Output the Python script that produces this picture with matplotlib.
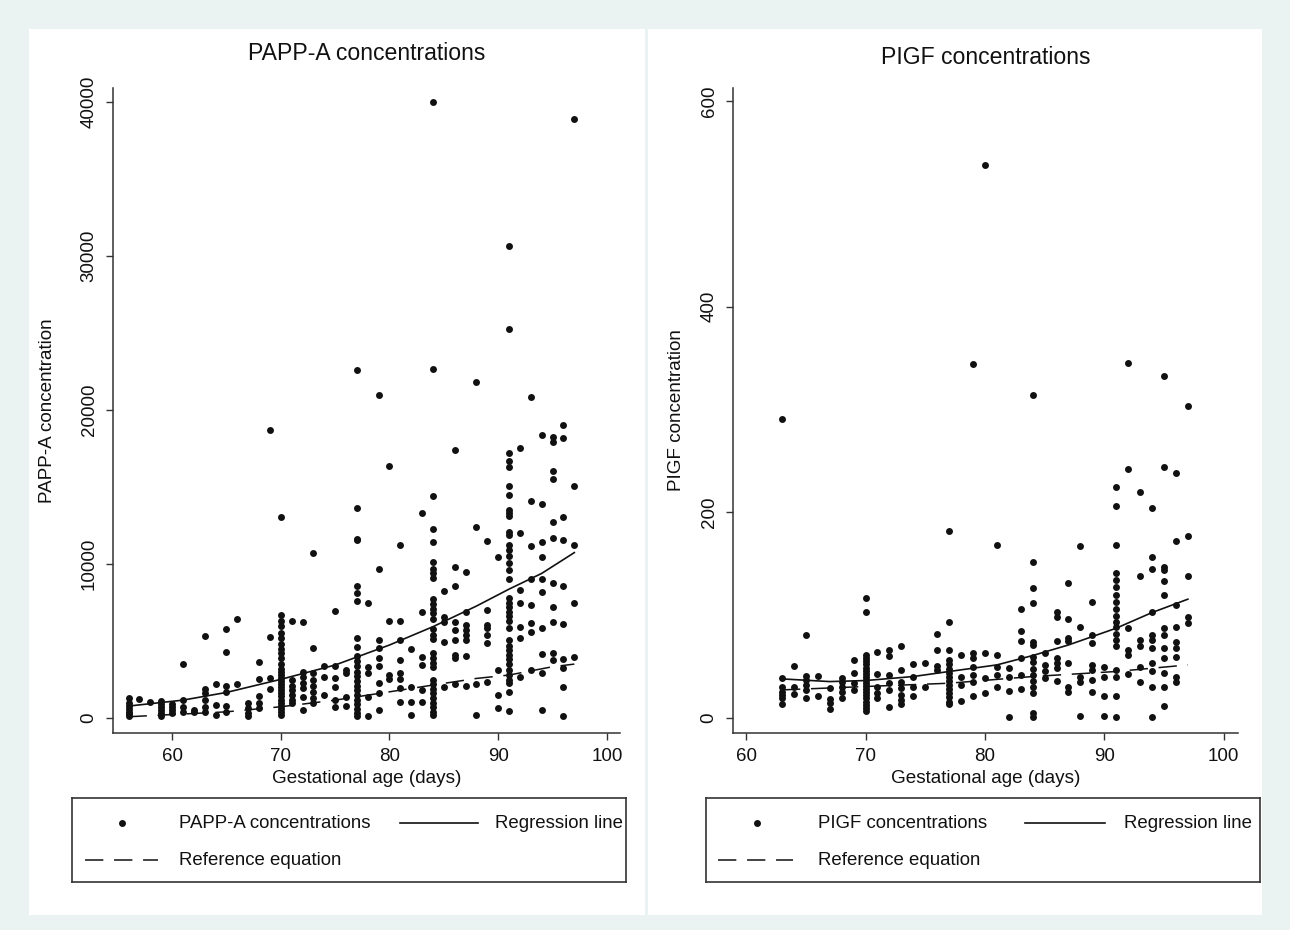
import matplotlib
matplotlib.use("Agg")
import matplotlib.pyplot as plt
from matplotlib.patches import Rectangle

plt.rcParams['font.family'] = ['Liberation Sans', 'DejaVu Sans']

# ---- PAPP-A scatter: gestational day -> concentrations
papp_days = [56, 57, 58, 59, 60, 61, 62, 63, 64, 65, 66, 67, 68, 69, 70, 71, 72, 73, 74, 75, 76,
             77, 78, 79, 80, 81, 82, 83, 84, 85, 86, 87, 88, 89, 90, 91, 92, 93, 94, 95, 96, 97]
papp_vals = [
    [1300, 1000, 800, 600, 400, 250, 150],
    [1250],
    [1060],
    [1100, 900, 700, 500, 300, 100],
    [900, 700, 500, 300],
    [3500, 1150, 700, 400],
    [500, 400],
    [5340, 1860, 1600, 1150, 700, 400],
    [2180, 840, 200],
    [5780, 4260, 2070, 1700, 770, 400],
    [6430, 2180],
    [990, 670, 300, 100],
    [3610, 2530, 1450, 950, 670],
    [18700, 5280, 2620, 1860],
    [13070, 6700, 6300, 6000, 5500, 5200, 4800, 4500, 4200, 3900, 3500, 3200, 3000, 2800,
     2600, 2400, 2200, 2000, 1800, 1600, 1400, 1200, 1000, 800, 600, 400, 200],
    [6270, 2460, 2100, 1800, 1500, 1200, 950],
    [6210, 3000, 2680, 2250, 1930, 1390, 520],
    [10740, 4520, 2900, 2500, 2100, 1700, 1300, 1000],
    [3370, 2680, 1490],
    [6920, 3370, 2570, 2030, 1200, 730],
    [3110, 2900, 1390, 770],
    [22620, 13660, 11620, 11560, 8590, 8100, 7600, 5170, 4590, 4000, 3700, 3400, 3000, 2700,
     2400, 2100, 1800, 1500, 1200, 900, 600, 300, 100],
    [7440, 3330, 2900, 1390, 130],
    [20950, 9650, 5060, 4520, 3870, 3370, 2250, 1600, 520],
    [16380, 6270, 2790, 2510],
    [11230, 6270, 5060, 3760, 2900, 2510, 1930, 1060],
    [4460, 2000, 1060, 200],
    [13310, 6860, 3980, 3440, 1820, 1060],
    [40000, 22680, 14390, 12250, 11400, 10150, 9700, 9400, 9100, 7700, 7400, 7100, 6800, 6400,
     5800, 5400, 5100, 4200, 3900, 3600, 3300, 2500, 2200, 1900, 1600, 1300, 1000, 700, 400, 200],
    [8240, 6580, 6250, 4950, 2030],
    [17380, 9830, 8590, 6250, 5710, 5060, 4090, 3870, 2200],
    [9500, 6900, 6040, 5710, 5390, 5060, 4040, 2070],
    [21800, 12420, 2200, 200],
    [11490, 7010, 6040, 5820, 5390, 4850, 2360],
    [10470, 3110, 1490, 620],
    [30670, 25280, 17190, 16700, 16300, 15070, 14480, 13500, 13300, 13100, 12100, 11900, 11230,
     10900, 10500, 10050, 9600, 9000, 7800, 7500, 7200, 6900, 6600, 6300, 5850, 5060, 4700,
     4400, 4100, 3800, 3500, 3100, 2790, 2500, 2250, 1700, 450],
    [17550, 11990, 8300, 7440, 5930, 5170, 2680],
    [20860, 14090, 11170, 9000, 7330, 6140, 5600, 3110],
    [18400, 13900, 11400, 10470, 9000, 8200, 5820, 4130, 2900, 520],
    [18220, 17900, 16040, 15540, 12730, 11670, 8740, 7230, 6250, 4200, 3760],
    [19050, 18200, 13070, 11560, 8590, 6080, 3830, 3220, 2030, 130],
    [38900, 15060, 11230, 7440, 3940],
]
papp_fit_x = [56, 61, 65, 70, 75, 80, 84, 88, 91, 94, 97]
papp_fit_y = [775, 1160, 1660, 2510, 3440, 4740, 5930, 7270, 8370, 9390, 10740]
papp_ref_x = [56, 65, 70, 75, 80, 84, 88, 91, 95, 97]
papp_ref_y = [82, 400, 730, 1160, 1700, 2140, 2570, 2790, 3330, 3500]

# ---- PlGF scatter
pigf_days = [63, 64, 65, 66, 67, 68, 69, 70, 71, 72, 73, 74, 75, 76, 77, 78, 79, 80,
             81, 82, 83, 84, 85, 86, 87, 88, 89, 90, 91, 92, 93, 94, 95, 96, 97]
pigf_vals = [
    [291, 38.7, 30.6, 25.7, 22.5, 19.2, 13.7],
    [50.7, 30.6, 23.1],
    [80.2, 41.3, 37.1, 32.2, 27.3, 19.2],
    [41.3, 21.8],
    [29, 18.3, 14.4, 8.9],
    [38.7, 34.5, 30.6, 25.7, 19.2],
    [56.5, 43.5, 33.8, 27.3],
    [116.4, 102.8, 61.4, 58, 55, 52, 49, 46, 43, 40, 37, 34, 31, 28, 25, 22, 19, 16, 13, 10, 7],
    [64, 42.6, 30.6, 24.1, 19.2],
    [66.2, 60.4, 41.9, 33.8, 27.3, 11.1],
    [70.4, 46.8, 35.4, 29, 22.5, 17.6, 13.7],
    [52.6, 40.3, 30.6, 21.8],
    [53.9, 30.6],
    [81.5, 66.2, 50.7, 46.8],
    [182.2, 93.8, 66.2, 56.5, 52, 48, 44, 40, 36, 32, 28, 24, 20, 16, 14],
    [61.4, 40.3, 32.2, 16.6],
    [344, 63, 58.1, 50, 41.9, 35.4, 21.8],
    [538, 63.6, 38.7, 24.1],
    [168.3, 61.4, 50, 41.9, 30.6],
    [48.4, 40.3, 26.7, 0.8],
    [106.1, 85, 75.3, 58.1, 41.9, 28.3],
    [314, 152.1, 126.2, 112.2, 74.3, 71.1, 59.7, 54, 48, 42, 36, 30, 24, 4.7, 1.4],
    [63, 51.6, 45.2, 38.7],
    [103.5, 98.6, 75.3, 58.1, 53.3, 48.4, 36.4],
    [131, 96, 77.6, 75.3, 53.9, 30.6, 24.8],
    [167.3, 88.9, 40.3, 35.4, 2.1],
    [112.5, 80.2, 72.7, 51.6, 46.8, 37.1, 25.7],
    [50, 40.3, 21.5, 2.1],
    [224.3, 206.2, 168.3, 141.4, 134, 127, 120, 113, 106, 99.5, 93.8, 88, 82, 76, 70,
     46.8, 40.3, 21.5, 0.8],
    [345, 241.8, 87.3, 66.2, 61.4, 42.9],
    [219.5, 138.5, 75.9, 69.5, 50, 35.4],
    [204.6, 156.3, 144.6, 103.5, 80.8, 75.9, 67.8, 53.3, 45.2, 30.6, 0.8],
    [332.5, 244.4, 147.2, 144, 133.3, 119.7, 87.3, 80.2, 67.8, 58.1, 44.2, 30.6, 11.8],
    [237.9, 172.2, 110, 88.9, 73.7, 67.8, 59.7, 40.3, 35.4],
    [303, 177, 138.5, 98, 92.8],
]
pigf_fit_x = [63, 67, 70, 74, 77, 81, 84, 87, 91, 94, 97]
pigf_fit_y = [38, 35.4, 36.4, 40.3, 45.2, 51.6, 60.7, 71, 87.3, 102.5, 115.5]
pigf_ref_x = [63, 70, 77, 84, 91, 97]
pigf_ref_y = [27.3, 30.6, 33.8, 40.3, 45.2, 51.6]

W, H = 1290, 930
BG = '#eaf2f2'
INK = '#111111'
DASH = (12, 7)
MS = 5.0


def rect(l, t, r, b):
    return [l / W, 1 - b / H, (r - l) / W, (b - t) / H]


def flatten(days, vals):
    xs, ys = [], []
    for d, v in zip(days, vals):
        xs += [d] * len(v)
        ys += v
    return xs, ys


fig = plt.figure(figsize=(W / 100, H / 100), dpi=100, facecolor=BG)
for l, r in [(29, 645), (648, 1262)]:
    fig.add_artist(Rectangle((l / W, 1 - 915 / H), (r - l) / W, (915 - 29) / H,
                             transform=fig.transFigure, facecolor='white', edgecolor='none', zorder=0))


def panel(box, days, vals, fit_x, fit_y, ref_x, ref_y, xlim, ylim, yticks,
          title, title_y, ylabel, ylabel_x):
    ax = fig.add_axes(rect(*box))
    ax.set_facecolor('none')
    xs, ys = flatten(days, vals)
    ax.plot(xs, ys, 'o', ms=MS, color=INK, mec='none', zorder=2)
    ax.plot(fit_x, fit_y, '-', color=INK, lw=1.2, zorder=3)
    ax.plot(ref_x, ref_y, '--', color=INK, lw=1.1, dashes=DASH, zorder=3)
    ax.set_xlim(*xlim)
    ax.set_ylim(*ylim)
    ax.set_xticks([60, 70, 80, 90, 100])
    ax.set_yticks(yticks)
    for s in ['top', 'right']:
        ax.spines[s].set_visible(False)
    for s in ['left', 'bottom']:
        ax.spines[s].set_color('#333333')
        ax.spines[s].set_linewidth(1.1)
    ax.tick_params(length=5, width=1.0, color='#333333', labelsize=13.5, labelcolor=INK, pad=6)
    plt.setp(ax.get_yticklabels(), rotation=90, va='center')
    ax.set_xlabel('Gestational age (days)', fontsize=13.6, color=INK, va='center')
    ax.xaxis.set_label_coords(0.5, -(778 - 733) / 645)
    ax.set_ylabel(ylabel, fontsize=13.6, color=INK, va='center')
    ax.yaxis.set_label_coords(ylabel_x, 0.5)
    ax.text(0.5, title_y, title, transform=ax.transAxes, ha='center', va='center',
            fontsize=16.6, color=INK)
    return ax


panel((113, 88, 620, 733), papp_days, papp_vals, papp_fit_x, papp_fit_y, papp_ref_x, papp_ref_y,
      (54.57, 101.2), (-974, 40909), [0, 10000, 20000, 30000, 40000],
      'PAPP-A concentrations', (733 - 54) / 645, 'PAPP-A concentration', (47 - 113) / 507)
panel((733, 88, 1238, 733), pigf_days, pigf_vals, pigf_fit_x, pigf_fit_y, pigf_ref_x, pigf_ref_y,
      (58.9, 101.2), (-14.6, 612.5), [0, 200, 400, 600],
      'PIGF concentrations', (733 - 58) / 645, 'PIGF concentration', (676 - 733) / 505)


def legend_box(box, series_label, mk_x, txt_x, line_x0, line_x1, txt2_x, dash_x0, dash_x1):
    lg = fig.add_axes(rect(*box))
    lg.set_xlim(0, box[2] - box[0])
    lg.set_ylim(box[3] - box[1], 0)
    lg.set_xticks([])
    lg.set_yticks([])
    lg.set_facecolor('white')
    for s in lg.spines.values():
        s.set_color('#333333')
        s.set_linewidth(1.2)
    y1, y2 = 25, 62
    lg.plot([mk_x], [y1], 'o', ms=MS, color=INK, mec='none')
    lg.text(txt_x, y1, series_label, fontsize=13.4, va='center', color=INK)
    lg.plot([line_x0, line_x1], [y1, y1], '-', color=INK, lw=1.2)
    lg.text(txt2_x, y1, 'Regression line', fontsize=13.4, va='center', color=INK)
    lg.plot([dash_x0, dash_x1], [y2, y2], '--', color=INK, lw=1.1, dashes=DASH)
    lg.text(txt_x, y2, 'Reference equation', fontsize=13.4, va='center', color=INK)


legend_box((72, 798, 626, 882), 'PAPP-A concentrations', 50, 107, 328, 406, 423, 13, 86)
legend_box((706, 798, 1260, 882), 'PIGF concentrations', 51, 112, 319, 399, 418, 12, 87)

fig.savefig('out.png', dpi=100, facecolor=BG)
